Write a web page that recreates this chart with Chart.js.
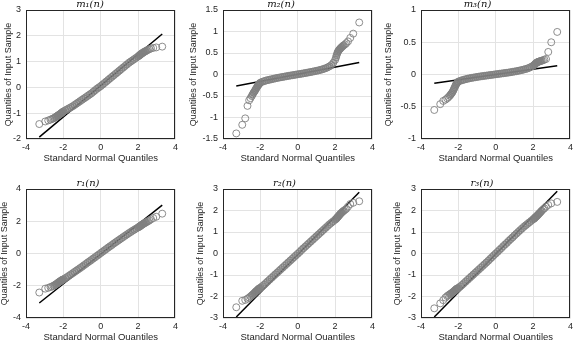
<!DOCTYPE html>
<html>
<head>
<meta charset="utf-8">
<script src="https://cdn.jsdelivr.net/npm/chart.js@4.4.0/dist/chart.umd.min.js"></script>
<style>
  html, body { margin: 0; padding: 0; background: #fff; }
  #wrap { position: relative; width: 573px; height: 340px; overflow: hidden; background: #fff; }
  #wrap canvas { position: absolute; }
</style>
</head>
<body>
<div id="wrap">
  <canvas id="c1"></canvas>
  <canvas id="c2"></canvas>
  <canvas id="c3"></canvas>
  <canvas id="c4"></canvas>
  <canvas id="c5"></canvas>
  <canvas id="c6"></canvas>
</div>
<script>
// theoretical quantiles (shared x values of every panel)
const qx = [-3.29, -2.97, -2.81, -2.69, -2.6, -2.53, -2.46, -2.41, -2.36, -2.31, -2.27, -2.23, -2.19, -2.15, -2.12, -2.08, -2.05,
    -2.0, -1.9, -1.8, -1.7, -1.6, -1.5, -1.4, -1.3, -1.2, -1.1, -1.0, -0.9, -0.8, -0.7, -0.6, -0.5, -0.4, -0.3, -0.2, -0.1,
    0, 0.1, 0.2, 0.3, 0.4, 0.5, 0.6, 0.7, 0.8, 0.9, 1.0, 1.1, 1.2, 1.3, 1.4, 1.5, 1.6, 1.7, 1.8, 1.9, 2.0,
    2.05, 2.08, 2.12, 2.15, 2.19, 2.23, 2.27, 2.31, 2.36, 2.41, 2.46, 2.53, 2.6, 2.69, 2.81, 2.97, 3.29];

// sample quantiles
const m1 = [-1.42, -1.32, -1.28, -1.25, -1.22, -1.2, -1.17, -1.15, -1.12, -1.1, -1.08, -1.06, -1.04, -1.02, -1.0, -0.98, -0.96,
    -0.93, -0.89, -0.85, -0.81, -0.77, -0.73, -0.68, -0.63, -0.58, -0.53, -0.48, -0.43, -0.38, -0.33, -0.28, -0.23, -0.17, -0.11, -0.05, 0.0,
    0.05, 0.11, 0.17, 0.23, 0.29, 0.35, 0.41, 0.47, 0.53, 0.59, 0.65, 0.71, 0.77, 0.83, 0.89, 0.95, 1.0, 1.05, 1.1, 1.15, 1.2,
    1.23, 1.25, 1.27, 1.29, 1.31, 1.33, 1.35, 1.37, 1.39, 1.41, 1.43, 1.46, 1.48, 1.51, 1.53, 1.55, 1.58];
const m2 = [-1.37, -1.17, -1.02, -0.73, -0.6, -0.55, -0.5, -0.46, -0.42, -0.39, -0.36, -0.33, -0.3, -0.27, -0.25, -0.23, -0.21,
    -0.19, -0.17, -0.155, -0.14, -0.13, -0.12, -0.11, -0.1, -0.09, -0.08, -0.072, -0.064, -0.056, -0.048, -0.04, -0.032, -0.025, -0.018, -0.01, -0.003,
    0.004, 0.011, 0.018, 0.026, 0.034, 0.042, 0.05, 0.058, 0.067, 0.076, 0.085, 0.095, 0.106, 0.118, 0.132, 0.148, 0.167, 0.19, 0.22, 0.27, 0.34,
    0.4, 0.45, 0.5, 0.53, 0.56, 0.58, 0.6, 0.62, 0.64, 0.66, 0.68, 0.7, 0.73, 0.77, 0.85, 0.95, 1.21];
const m3 = [-0.55, -0.46, -0.41, -0.39, -0.37, -0.35, -0.33, -0.31, -0.29, -0.27, -0.245, -0.22, -0.195, -0.17, -0.15, -0.135, -0.12,
    -0.11, -0.098, -0.088, -0.08, -0.072, -0.065, -0.059, -0.053, -0.048, -0.043, -0.038, -0.033, -0.029, -0.025, -0.021, -0.017, -0.013, -0.009, -0.005, -0.001,
    0.003, 0.007, 0.011, 0.015, 0.019, 0.023, 0.027, 0.031, 0.036, 0.041, 0.046, 0.051, 0.057, 0.063, 0.07, 0.077, 0.085, 0.094, 0.105, 0.12, 0.135,
    0.145, 0.155, 0.165, 0.175, 0.185, 0.19, 0.195, 0.2, 0.205, 0.21, 0.215, 0.22, 0.23, 0.24, 0.35, 0.5, 0.66];
const r1 = [-2.42, -2.18, -2.13, -2.08, -2.04, -2.0, -1.96, -1.92, -1.88, -1.84, -1.8, -1.77, -1.74, -1.71, -1.68, -1.65, -1.63,
    -1.6, -1.53, -1.46, -1.38, -1.3, -1.22, -1.14, -1.06, -0.98, -0.9, -0.82, -0.73, -0.65, -0.56, -0.48, -0.4, -0.31, -0.23, -0.14, -0.06,
    0.03, 0.11, 0.2, 0.28, 0.37, 0.45, 0.53, 0.62, 0.7, 0.78, 0.86, 0.94, 1.02, 1.1, 1.18, 1.26, 1.33, 1.41, 1.48, 1.55, 1.62,
    1.65, 1.68, 1.71, 1.74, 1.77, 1.8, 1.83, 1.86, 1.89, 1.93, 1.96, 2.0, 2.05, 2.12, 2.2, 2.28, 2.47];
const r2 = [-2.5, -2.2, -2.16, -2.1, -2.05, -2.0, -1.95, -1.91, -1.87, -1.83, -1.79, -1.76, -1.73, -1.7, -1.67, -1.64, -1.62,
    -1.59, -1.52, -1.45, -1.37, -1.29, -1.21, -1.13, -1.05, -0.97, -0.89, -0.81, -0.73, -0.65, -0.57, -0.49, -0.41, -0.33, -0.25, -0.17, -0.09,
    -0.01, 0.07, 0.16, 0.24, 0.32, 0.4, 0.48, 0.56, 0.64, 0.72, 0.8, 0.88, 0.96, 1.04, 1.12, 1.2, 1.28, 1.36, 1.43, 1.5, 1.57,
    1.61, 1.64, 1.68, 1.71, 1.75, 1.79, 1.83, 1.87, 1.91, 1.95, 1.99, 2.03, 2.08, 2.18, 2.3, 2.36, 2.43];
const r3 = [-2.55, -2.32, -2.17, -2.05, -1.98, -1.94, -1.9, -1.87, -1.84, -1.81, -1.78, -1.75, -1.72, -1.69, -1.66, -1.64, -1.62,
    -1.6, -1.53, -1.46, -1.38, -1.3, -1.22, -1.14, -1.06, -0.98, -0.9, -0.82, -0.74, -0.66, -0.58, -0.5, -0.42, -0.34, -0.25, -0.17, -0.08,
    0.0, 0.08, 0.17, 0.25, 0.34, 0.42, 0.5, 0.59, 0.67, 0.75, 0.84, 0.92, 1.0, 1.08, 1.16, 1.24, 1.31, 1.38, 1.45, 1.52, 1.59,
    1.62, 1.65, 1.68, 1.71, 1.74, 1.77, 1.81, 1.85, 1.89, 1.94, 1.99, 2.05, 2.1, 2.18, 2.26, 2.33, 2.4];

// reference line end points (x at min/max quantile)
const lineX = [-3.29, 3.29];
const lineM1 = [-1.93, 2.07];
const lineM2 = [-0.27, 0.28];
const lineM3 = [-0.135, 0.135];
const lineR1 = [-3.07, 3.0];
const lineR2 = [-2.95, 2.85];
const lineR3 = [-2.95, 2.9];

const titles = ['m₁(n)', 'm₂(n)', 'm₃(n)', 'r₁(n)', 'r₂(n)', 'r₃(n)'];
const yRanges = [[-2, 3, 1], [-1.5, 1.5, 0.5], [-1, 1, 0.5], [-4, 4, 2], [-3, 3, 1], [-3, 3, 1]];

const panels = [
    { id: 'c1', y: m1, line: lineM1, left: 3, top: -2, axisW: 23 },
    { id: 'c2', y: m2, line: lineM2, left: 188, top: -2, axisW: 35 },
    { id: 'c3', y: m3, line: lineM3, left: 383, top: -2, axisW: 38 },
    { id: 'c4', y: r1, line: lineR1, left: -1, top: 177, axisW: 27 },
    { id: 'c5', y: r2, line: lineR2, left: 195, top: 177, axisW: 28 },
    { id: 'c6', y: r3, line: lineR3, left: 392, top: 177, axisW: 29 }
];

const PLOT_W = 151, PLOT_H = 129, TITLE_H = 12, XAXIS_H = 25, PAD_R = 4;
const textColor = '#262626';
const sans = "'Liberation Sans', Arial, sans-serif";

// MATLAB-style box around the axes
const boxPlugin = {
    id: 'box',
    afterDraw(chart) {
        const { ctx, chartArea: a } = chart;
        ctx.save();
        ctx.strokeStyle = textColor;
        ctx.lineWidth = 1;
        ctx.strokeRect(Math.round(a.left) + 0.5, Math.round(a.top) + 0.5,
            Math.round(a.right - a.left) - 1, Math.round(a.bottom - a.top) - 1);
        ctx.restore();
    }
};

// plain tick numbers: 1, 0.5, -1 (no trailing .0)
const tickText = v => String(parseFloat(v.toFixed(2)));

document.addEventListener('DOMContentLoaded', () => {
    panels.forEach((p, i) => {
        const canvas = document.getElementById(p.id);
        const w = p.axisW + PLOT_W + PAD_R;
        const h = TITLE_H + PLOT_H + XAXIS_H;
        canvas.width = w;
        canvas.height = h;
        canvas.style.left = p.left + 'px';
        canvas.style.top = p.top + 'px';
        canvas.style.width = w + 'px';
        canvas.style.height = h + 'px';

        const [yMin, yMax, yStep] = yRanges[i];
        const points = qx.map((x, k) => ({ x: x, y: p.y[k] }));

        new Chart(canvas.getContext('2d'), {
            type: 'scatter',
            data: {
                datasets: [{
                    label: 'data',
                    data: points,
                    pointStyle: 'circle',
                    pointRadius: 3.5,
                    pointBorderWidth: 0.9,
                    borderColor: 'rgb(128,128,128)',
                    // dense middle of the sample shows as a solid grey band
                    backgroundColor: ctx => (ctx.raw && Math.abs(ctx.raw.x) <= 2.47)
                        ? 'rgba(128,128,128,0.35)' : 'rgba(0,0,0,0)',
                    order: 0
                }, {
                    type: 'line',
                    label: 'ref',
                    data: [{ x: lineX[0], y: p.line[0] }, { x: lineX[1], y: p.line[1] }],
                    borderColor: '#000',
                    borderWidth: 1.5,
                    pointRadius: 0,
                    fill: false,
                    order: 1
                }]
            },
            options: {
                responsive: false,
                animation: false,
                devicePixelRatio: 1,
                layout: { padding: { left: 0, right: PAD_R, top: 0, bottom: 0 } },
                plugins: {
                    legend: { display: false },
                    tooltip: { enabled: false },
                    title: {
                        display: true,
                        text: titles[i],
                        color: '#111',
                        font: { family: "'DejaVu Serif', serif", style: 'italic', size: 10, weight: 'normal', lineHeight: 1.2 },
                        padding: { top: 0, bottom: 0 }
                    }
                },
                scales: {
                    x: {
                        type: 'linear',
                        min: -4,
                        max: 4,
                        afterFit: scale => { scale.height = XAXIS_H; },
                        ticks: { stepSize: 2, color: textColor, padding: 3, font: { family: sans, size: 9 }, callback: tickText },
                        grid: { color: '#e3e3e3', drawTicks: false },
                        border: { display: false },
                        title: {
                            display: true,
                            text: 'Standard Normal Quantiles',
                            color: textColor,
                            padding: 0,
                            font: { family: sans, size: 9.5 }
                        }
                    },
                    y: {
                        type: 'linear',
                        min: yMin,
                        max: yMax,
                        afterFit: scale => { scale.width = p.axisW; },
                        ticks: { stepSize: yStep, color: textColor, padding: 5, font: { family: sans, size: 9 }, callback: tickText },
                        grid: { color: '#e3e3e3', drawTicks: false },
                        border: { display: false },
                        title: {
                            display: true,
                            text: 'Quantiles of Input Sample',
                            color: textColor,
                            padding: 0,
                            font: { family: sans, size: 9 }
                        }
                    }
                }
            },
            plugins: [boxPlugin]
        });
    });
});
</script>
</body>
</html>
